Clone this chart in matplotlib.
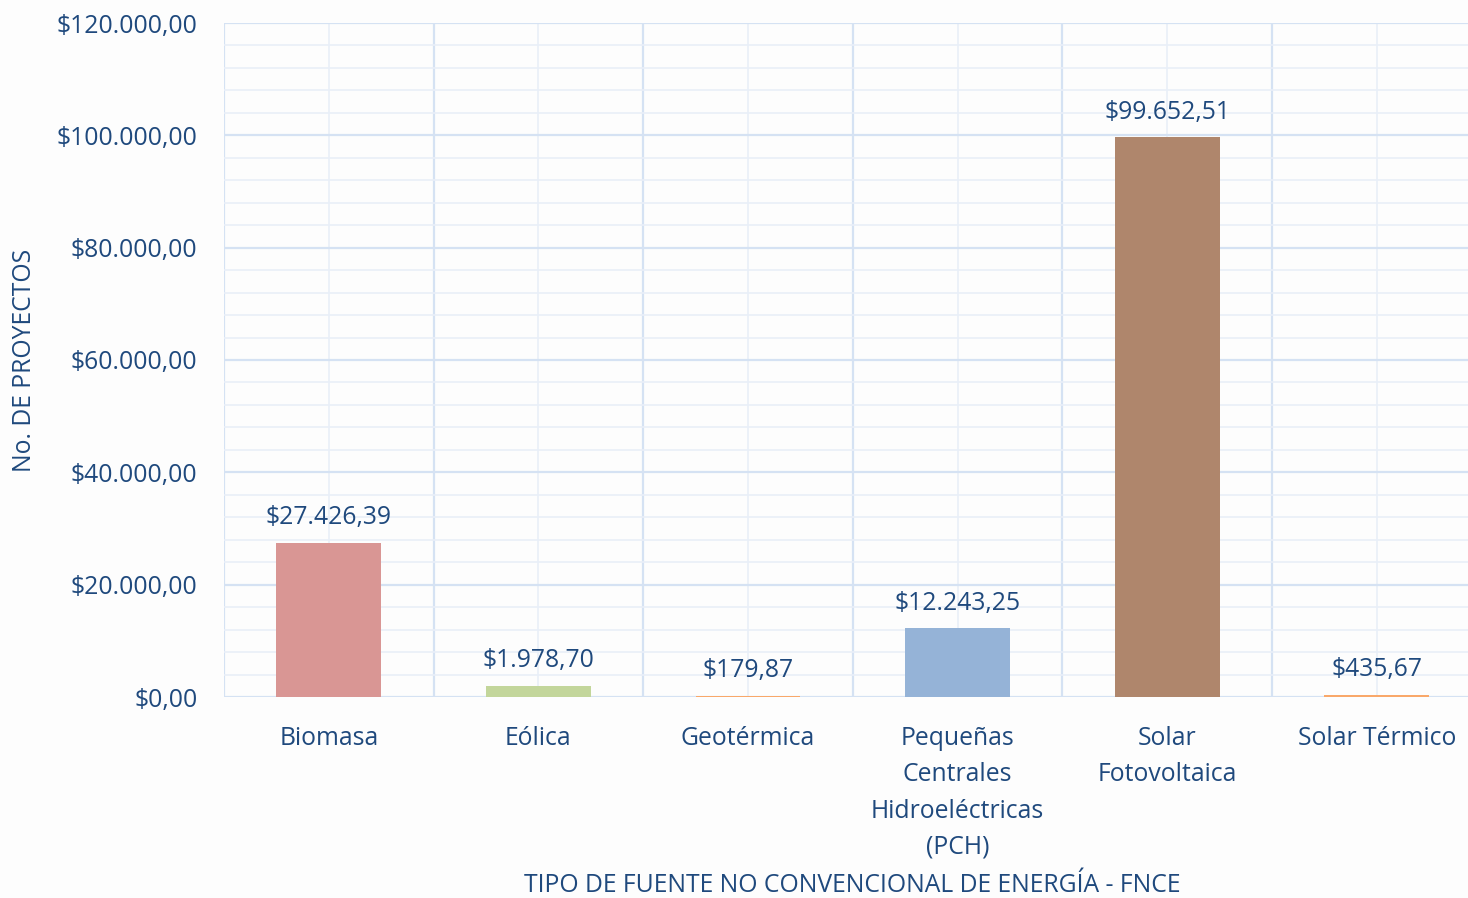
import matplotlib
matplotlib.use("Agg")
import matplotlib.pyplot as plt
from matplotlib.ticker import MultipleLocator, FixedLocator, FuncFormatter

categories = ["Biomasa", "Eólica", "Geotérmica",
              "Pequeñas\nCentrales\nHidroeléctricas\n(PCH)",
              "Solar\nFotovoltaica", "Solar Térmico"]
values = [27426.39, 1978.70, 179.87, 12243.25, 99652.51, 435.67]
colors = ["#D99694", "#C3D69B", "#F9A86A", "#95B3D7", "#AF866C", "#F9A86A"]
y_ticks = [0, 20000, 40000, 60000, 80000, 100000, 120000]

def money(v):
    s = f"{v:,.2f}"
    s = s.replace(",", "X").replace(".", ",").replace("X", ".")
    return "$" + s

plt.rcParams['font.family'] = ['Open Sans', 'DejaVu Sans']
txt = "#1F497D"
fs = 17.8

fig = plt.figure(figsize=(14.68, 8.98), dpi=100)
fig.patch.set_facecolor("#FDFDFD")
W, H = 1468, 898
left, right, top, bottom = 224, 224 + 6 * 209.6, 23, 697
ax = fig.add_axes([left / W, 1 - bottom / H, (right - left) / W, (bottom - top) / H])
ax.set_facecolor("none")

x = list(range(len(categories)))
ax.bar(x, values, width=0.5, color=colors, zorder=3)
for xi, v in zip(x, values):
    ax.annotate(money(v), (xi, v), xytext=(0, 9), textcoords="offset points",
                ha="center", va="bottom", fontsize=fs, color=txt)

ax.set_xlim(-0.5, len(categories) - 0.5)
ax.set_ylim(0, 120000)
ax.yaxis.set_major_locator(FixedLocator(y_ticks))
ax.yaxis.set_minor_locator(MultipleLocator(4000))
ax.yaxis.set_major_formatter(FuncFormatter(lambda v, p: money(v)))
ax.set_xticks(x)
ax.set_xticklabels(categories, fontsize=fs, color=txt, linespacing=1.59, va="top")
ax.xaxis.set_minor_locator(FixedLocator([i + 0.5 for i in range(-1, len(categories))]))
ax.tick_params(axis="y", labelsize=fs, labelcolor=txt, length=0, which="both", pad=19)
ax.tick_params(axis="x", length=0, which="both", pad=21)

ax.grid(True, axis="y", which="major", color="#D5E2F3", linewidth=1.6, zorder=0)
ax.grid(True, axis="y", which="minor", color="#E9EFF8", linewidth=1.2, zorder=0)
ax.grid(True, axis="x", which="minor", color="#D5E2F3", linewidth=1.6, zorder=0)
ax.grid(True, axis="x", which="major", color="#E9EFF8", linewidth=1.2, zorder=0)
for s in ax.spines.values():
    s.set_visible(False)

ax.set_ylabel("No. DE PROYECTOS", fontsize=fs, color=txt)
ax.yaxis.set_label_coords(-187 / (right - left), 0.5)
fig.text(852 / W, 1 - 886 / H, "TIPO DE FUENTE NO CONVENCIONAL DE ENERGÍA - FNCE",
         ha="center", va="center", fontsize=fs, color=txt)

fig.savefig("out.png", dpi=100, facecolor=fig.get_facecolor())
